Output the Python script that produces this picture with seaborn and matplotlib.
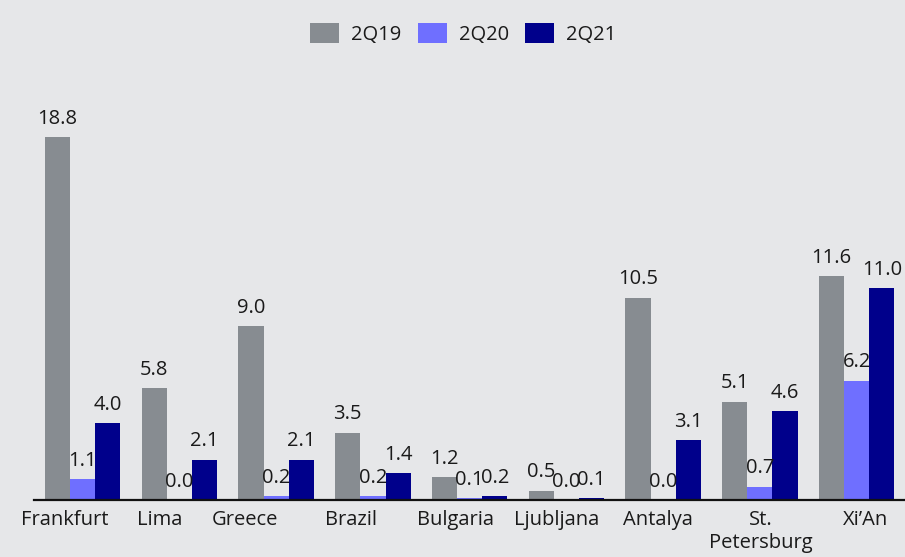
import numpy as np
import pandas as pd
import matplotlib.pyplot as plt
import matplotlib.transforms as mtransforms
import seaborn as sns

# chart values
cities = ['Frankfurt', 'Lima', 'Greece', 'Brazil', 'Bulgaria', 'Ljubljana',
          'Antalya', 'St.\nPetersburg', 'Xi\u2019An']
q2_19 = [18.8, 5.8, 9.0, 3.5, 1.2, 0.5, 10.5, 5.1, 11.6]
q2_20 = [1.1, 0.0, 0.2, 0.2, 0.1, 0.0, 0.0, 0.7, 6.2]
q2_21 = [4.0, 2.1, 2.1, 1.4, 0.2, 0.1, 3.1, 4.6, 11.0]
periods = ['2Q19', '2Q20', '2Q21']

colors = {'2Q19': '#878c91', '2Q20': '#6f6fff', '2Q21': '#00008b'}
bg = '#e6e7e9'
# the category labels in the source sit a little off the group centres (pixels)
label_shift = [-18, -20, -31, -22, -14, -10, -5, 1, 9]

df = pd.DataFrame({
    'city': cities * 3,
    'period': np.repeat(periods, len(cities)),
    'value': q2_19 + q2_20 + q2_21,
})

sns.set_theme(style='white')
plt.rcParams['font.family'] = ['Open Sans', 'DejaVu Sans']

fig = plt.figure(figsize=(9.05, 5.57), dpi=100, facecolor=bg)
ax = fig.add_axes([0.038, 0.102, 0.962, 0.79])
ax.set_facecolor(bg)

sns.barplot(data=df, x='city', y='value', hue='period', hue_order=periods,
            palette=colors, width=0.78, saturation=1, linewidth=0,
            ax=ax, legend=True)

for cont in ax.containers:
    ax.bar_label(cont, fmt='%.1f', padding=6, fontsize=14.5, color='#1a1a1a')

ax.set_xlim(-0.5, len(cities) - 0.5)
ax.set_ylim(0, 22.8)
ax.set_xlabel('')
ax.set_ylabel('')
ax.set_yticks([])
ax.tick_params(axis='x', length=0, pad=7, labelsize=14.5, labelcolor='#1a1a1a')
for lbl, dx in zip(ax.get_xticklabels(), label_shift):
    off = mtransforms.ScaledTranslation(dx / 100, 0, fig.dpi_scale_trans)
    lbl.set_transform(lbl.get_transform() + off)
for s in ['top', 'right', 'left']:
    ax.spines[s].set_visible(False)
ax.spines['bottom'].set_color('#111111')
ax.spines['bottom'].set_linewidth(1.6)

handles, labels = ax.get_legend_handles_labels()
ax.get_legend().remove()
fig.legend(handles, labels, loc='center', bbox_to_anchor=(0.512, 0.939),
           ncol=3, frameon=False, fontsize=14.5, handlelength=1.45,
           handleheight=1.1, columnspacing=0.8, handletextpad=0.6,
           labelcolor='#1a1a1a')

fig.savefig('out.png', dpi=100, facecolor=bg)
